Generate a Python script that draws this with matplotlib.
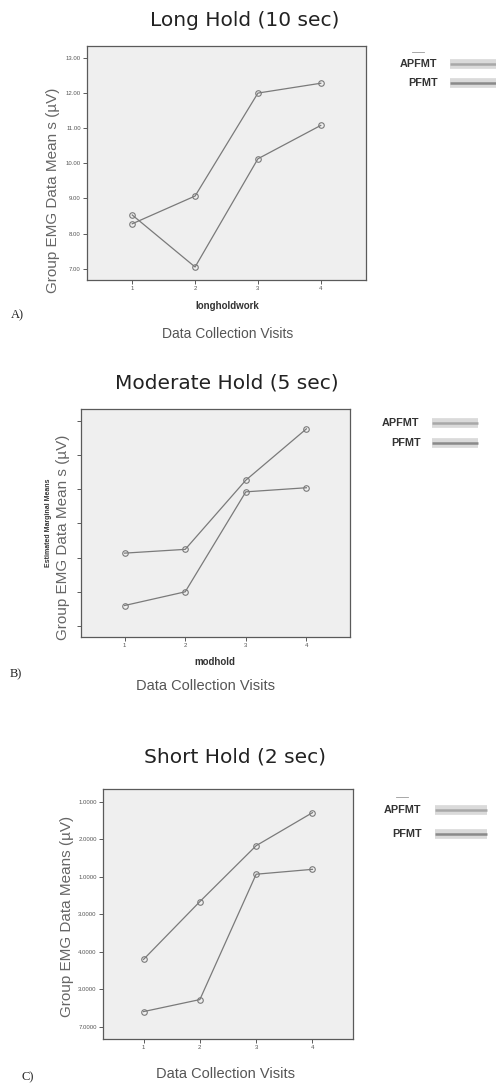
import matplotlib
matplotlib.use("Agg")
import matplotlib.pyplot as plt

plt.rcParams['font.family'] = ['Liberation Sans', 'DejaVu Sans']

W, H = 496, 1084

visits = [1, 2, 3, 4]

# Long hold (10 sec)
long_apfmt = [8.28, 9.07, 12.00, 12.28]
long_pfmt = [8.53, 7.05, 10.13, 11.08]
long_ticks = [7, 8, 9, 10, 11, 12, 13]
long_ticklabels = ["7.00", "8.00", "9.00", "10.00", "11.00", "12.00", "13.00"]

# Moderate hold (5 sec) - tick labels not visible in the figure
mod_apfmt = [9.13, 9.24, 11.26, 12.76]
mod_pfmt = [7.60, 8.00, 10.92, 11.04]
mod_ticks = [7, 8, 9, 10, 11, 12, 13]
mod_ticklabels = ["", "", "", "", "", "", ""]

# Short hold (2 sec) - tick labels are clipped in the figure
short_apfmt = [8.80, 10.34, 11.83, 12.71]
short_pfmt = [7.41, 7.73, 11.07, 11.20]
short_ticks = [7, 8, 9, 10, 11, 12, 13]
short_ticklabels = ["7.0000", "3.0000", "4.0000", "3.0000", "1.0000", "2.0000", "1.0000"]

LINE = "#7a7a7a"
BG = "#efefef"
SPINE = "#5a5a5a"
TITLE_FONT = ["DejaVu Sans"]


def fx(x):
    return x / W


def fy(y):
    return 1 - y / H


def make_axes(fig, left, right, top, bottom):
    return fig.add_axes([fx(left), fy(bottom), (right - left) / W, (bottom - top) / H])


def draw_panel(ax, a_vals, p_vals, ticks, ticklabels):
    ax.set_facecolor(BG)
    for y in (a_vals, p_vals):
        ax.plot(visits, y, color=LINE, lw=0.9, marker="o", ms=4.0,
                mfc="none", mec=LINE, mew=0.8)
    ax.set_xlim(0.28, 4.72)
    ax.set_ylim(6.68, 13.34)
    ax.set_xticks(visits)
    ax.set_xticklabels([str(v) for v in visits])
    ax.set_yticks(ticks)
    ax.set_yticklabels(ticklabels)
    ax.tick_params(axis="both", direction="out", length=3, width=0.7,
                   colors=SPINE, labelsize=4.3, pad=1.5)
    ax.tick_params(axis="both", labelcolor="#555555")
    for s in ax.spines.values():
        s.set_color(SPINE)
        s.set_linewidth(0.9)


def draw_legend(fig, xa, ya, xp, yp, x0, x1, dash_y=None):
    fig.text(fx(xa), fy(ya), "APFMT", ha="center", va="center",
             fontsize=7.8, fontweight="bold", color="#333333")
    fig.text(fx(xp), fy(yp), "PFMT", ha="center", va="center",
             fontsize=7.8, fontweight="bold", color="#333333")
    # blurred double line swatches
    for y, core in ((ya, "#a8a8a8"), (yp, "#8a8a8a")):
        fig.add_artist(plt.Line2D([fx(x0), fx(x1)], [fy(y), fy(y)],
                                  color="#dadada", lw=7, solid_capstyle="butt"))
        fig.add_artist(plt.Line2D([fx(x0), fx(x1)], [fy(y), fy(y)],
                                  color=core, lw=1.8, solid_capstyle="butt"))
    if dash_y is not None:
        fig.add_artist(plt.Line2D([fx(xa - 6), fx(xa + 6)], [fy(dash_y), fy(dash_y)],
                                  color="#999999", lw=0.6))


fig = plt.figure(figsize=(W / 100, H / 100), dpi=100)
fig.patch.set_facecolor("white")

# ---- A) Long hold
axA = make_axes(fig, 87, 366, 46, 280)
draw_panel(axA, long_apfmt, long_pfmt, long_ticks, long_ticklabels)
fig.text(fx(245), fy(20), "Long Hold (10 sec)", ha="center", va="center",
         fontsize=14.5, color="#222222", family=TITLE_FONT)
fig.text(fx(53), fy(190), "Group EMG Data Mean s (\u00b5V)", rotation=90,
         ha="center", va="center", fontsize=11, color="#666666")
fig.text(fx(227), fy(306), "longholdwork", ha="center", va="center",
         fontsize=7, fontweight="bold", color="#333333")
fig.text(fx(228), fy(334), "Data Collection Visits", ha="center", va="center",
         fontsize=10, color="#555555")
fig.text(fx(11), fy(315), "A)", ha="left", va="center", fontsize=9,
         family=["Liberation Serif", "DejaVu Serif"], color="#222222")
draw_legend(fig, 418, 64, 423, 83, 450, 496, dash_y=52)

# ---- B) Moderate hold
axB = make_axes(fig, 81, 350, 409, 637)
draw_panel(axB, mod_apfmt, mod_pfmt, mod_ticks, mod_ticklabels)
fig.text(fx(227), fy(383), "Moderate Hold (5 sec)", ha="center", va="center",
         fontsize=14.5, color="#222222", family=TITLE_FONT)
fig.text(fx(63), fy(537), "Group EMG Data Mean s (\u00b5V)", rotation=90,
         ha="center", va="center", fontsize=11, color="#666666")
fig.text(fx(49), fy(523), "Estimated Marginal Means", rotation=90,
         ha="center", va="center", fontsize=5, fontweight="bold", color="#333333")
fig.text(fx(215), fy(662), "modhold", ha="center", va="center",
         fontsize=7, fontweight="bold", color="#333333")
fig.text(fx(206), fy(686), "Data Collection Visits", ha="center", va="center",
         fontsize=10.5, color="#555555")
fig.text(fx(10), fy(674), "B)", ha="left", va="center", fontsize=9,
         family=["Liberation Serif", "DejaVu Serif"], color="#222222")
draw_legend(fig, 400, 423, 406, 443, 432, 478)

# ---- C) Short hold
axC = make_axes(fig, 103, 353, 789, 1039)
draw_panel(axC, short_apfmt, short_pfmt, short_ticks, short_ticklabels)
fig.text(fx(235), fy(757), "Short Hold (2 sec)", ha="center", va="center",
         fontsize=14.5, color="#222222", family=TITLE_FONT)
fig.text(fx(67), fy(916), "Group EMG Data Means (\u00b5V)", rotation=90,
         ha="center", va="center", fontsize=11, color="#666666")
fig.text(fx(225), fy(1074), "Data Collection Visits", ha="center", va="center",
         fontsize=10.5, color="#555555")
fig.text(fx(22), fy(1077), "C)", ha="left", va="center", fontsize=9,
         family=["Liberation Serif", "DejaVu Serif"], color="#222222")
draw_legend(fig, 402, 810, 407, 834, 435, 487, dash_y=797)

fig.savefig("out.png", dpi=100, facecolor="white")
